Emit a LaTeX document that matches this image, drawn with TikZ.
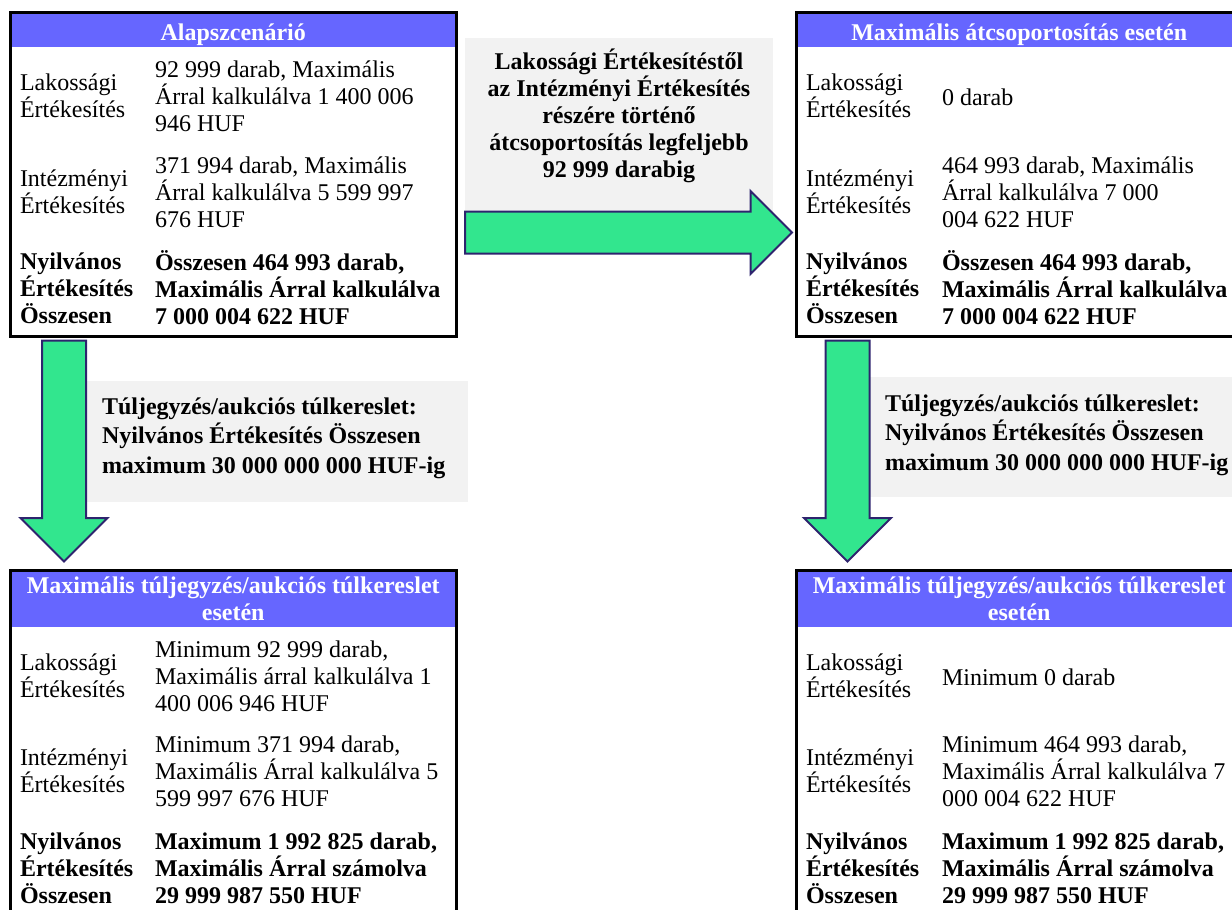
\documentclass[tikz,border=0pt]{standalone}
\usepackage{fontspec}
\setmainfont{Liberation Serif}
\usetikzlibrary{shapes.arrows}
\definecolor{headblue}{RGB}{102,102,255}
\definecolor{arrowgreen}{RGB}{50,230,142}
\definecolor{arrowedge}{RGB}{46,36,110}
\definecolor{notegray}{RGB}{242,242,242}

\begin{document}
\begin{tikzpicture}[x=1pt,y=-1pt,
  every node/.style={font=\fontsize{24}{27}\selectfont, inner sep=0pt, outer sep=0pt},
  headbar/.style={fill=headblue, text=white, font=\fontsize{24}{27}\selectfont\bfseries, align=center},
  scenframe/.style={draw=black, line width=3pt},
  cell/.style={anchor=west, align=left},
  boldcell/.style={cell, font=\fontsize{24}{27}\selectfont\bfseries},
  notebox/.style={fill=notegray},
  notetext/.style={font=\fontsize{24}{29.5}\selectfont\bfseries},
  bigarrow/.style={single arrow, fill=arrowgreen, draw=arrowedge, line width=2pt}]
\useasboundingbox (0,0) rectangle (1232,910);
\clip (0,0) rectangle (1232,910);

% header bands
\node[headbar, minimum width=446.5, minimum height=35, text height=26pt, text depth=5pt] (alaphead) at (233.25,29.5) {Alapszcenárió};
\node[headbar, minimum width=445.5, minimum height=35, text height=26pt, text depth=5pt] (atcshead) at (1019.25,29.5) {Maximális átcsoportosítás esetén};
\node[headbar, minimum width=446.5, minimum height=56.5] (tulalaphead) at (233.25,598.75) {Maximális túljegyzés/aukciós túlkereslet\\esetén};
\node[headbar, minimum width=445.5, minimum height=56.5] (tulatcshead) at (1019.25,598.75) {Maximális túljegyzés/aukciós túlkereslet\\esetén};

% frames
\node[scenframe, minimum width=446.5, minimum height=324.5] (alap) at (233.25,174.25) {};
\node[scenframe, minimum width=445.5, minimum height=324.5] (atcs) at (1019.25,174.25) {};
\node[scenframe, minimum width=446.5, minimum height=380] (tulalap) at (233.25,760.5) {};
\node[scenframe, minimum width=445.5, minimum height=380] (tulatcs) at (1019.25,760.5) {};

% notes and arrows
\node[notebox, minimum width=308, minimum height=177] (atcsnote) at (619,126.5) {};
\node[notebox, minimum width=383, minimum height=121] (alapnote) at (276.5,441.5) {};
\node[notebox, minimum width=383, minimum height=120] (tulnote) at (1059.5,437) {};

\node[bigarrow, inner ysep=20, minimum height=327, single arrow head extend=20.5] (atcsarrow) at (618,232.5) {};
\node[bigarrow, rotate=-90, inner ysep=21, minimum height=221, single arrow head extend=21.5] (alapdown) at (64,440) {};
\node[bigarrow, rotate=-90, inner ysep=21, minimum height=221, single arrow head extend=21.5] (atcsdown) at (847.5,440) {};

\node[notetext, font=\fontsize{24}{27}\selectfont\bfseries, align=center] (atcsnotetext) at (619,116) {Lakossági Értékesítéstől\\az Intézményi Értékesítés\\részére történő\\átcsoportosítás legfeljebb\\92 999 darabig};
\node[notetext, cell] (alapnotetext) at (102,438) {Túljegyzés/aukciós túlkereslet:\\Nyilvános Értékesítés Összesen\\maximum 30 000 000 000 HUF-ig};
\node[notetext, cell] (tulnotetext) at (885,435) {Túljegyzés/aukciós túlkereslet:\\Nyilvános Értékesítés Összesen\\maximum 30 000 000 000 HUF-ig};

% Alapszcenario
\node[cell] (alaplak) at (20,96) {Lakossági\\Értékesítés};
\node[cell] (alaplakval) at (155,96) {92 999 darab, Maximális\\Árral kalkulálva 1 400 006\\946 HUF};
\node[cell] (alapint) at (20,192) {Intézményi\\Értékesítés};
\node[cell] (alapintval) at (155,192) {371 994 darab, Maximális\\Árral kalkulálva 5 599 997\\676 HUF};
\node[boldcell] (alapossz) at (20,288) {Nyilvános\\Értékesítés\\Összesen};
\node[boldcell] (alaposszval) at (155,288) {Összesen 464 993 darab,\\Maximális Árral kalkulálva\\7 000 004 622 HUF};

% atcsoportositas
\node[cell] (atcslak) at (806,96) {Lakossági\\Értékesítés};
\node[cell] (atcslakval) at (942,97) {0 darab};
\node[cell] (atcsint) at (806,192) {Intézményi\\Értékesítés};
\node[cell] (atcsintval) at (942,192) {464 993 darab, Maximális\\Árral kalkulálva 7 000\\004 622 HUF};
\node[boldcell] (atcsossz) at (806,288) {Nyilvános\\Értékesítés\\Összesen};
\node[boldcell] (atcsosszval) at (942,288) {Összesen 464 993 darab,\\Maximális Árral kalkulálva\\7 000 004 622 HUF};

% tuljegyzes, alap
\node[cell] (tulalaplak) at (20,676) {Lakossági\\Értékesítés};
\node[cell] (tulalaplakval) at (155,676) {Minimum 92 999 darab,\\Maximális árral kalkulálva 1\\400 006 946 HUF};
\node[cell] (tulalapint) at (20,771) {Intézményi\\Értékesítés};
\node[cell] (tulalapintval) at (155,771) {Minimum 371 994 darab,\\Maximális Árral kalkulálva 5\\599 997 676 HUF};
\node[boldcell] (tulalapossz) at (20,868) {Nyilvános\\Értékesítés\\Összesen};
\node[boldcell] (tulalaposszval) at (155,868) {Maximum 1 992 825 darab,\\Maximális Árral számolva\\29 999 987 550 HUF};

% tuljegyzes, atcsoportositas
\node[cell] (tulatcslak) at (806,676) {Lakossági\\Értékesítés};
\node[cell] (tulatcslakval) at (942,677) {Minimum 0 darab};
\node[cell] (tulatcsint) at (806,771) {Intézményi\\Értékesítés};
\node[cell] (tulatcsintval) at (942,771) {Minimum 464 993 darab,\\Maximális Árral kalkulálva 7\\000 004 622 HUF};
\node[boldcell] (tulatcsossz) at (806,868) {Nyilvános\\Értékesítés\\Összesen};
\node[boldcell] (tulatcsosszval) at (942,868) {Maximum 1 992 825 darab,\\Maximális Árral számolva\\29 999 987 550 HUF};
\end{tikzpicture}
\end{document}
